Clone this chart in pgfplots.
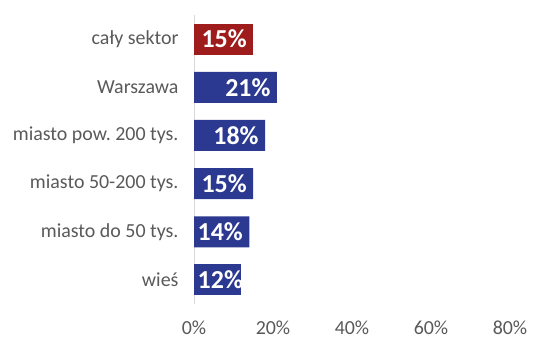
\documentclass[border=0pt]{standalone}
\usepackage{pgfplots}
\pgfplotsset{compat=1.18}
\usepackage{pgfplotstable}
\usepackage{fontspec}
\setmainfont{Carlito}
\frenchspacing
\definecolor{barred}{HTML}{9E1C1C}
\definecolor{barblue}{HTML}{2B3990}
\definecolor{txtgray}{HTML}{595959}
\definecolor{axgray}{HTML}{D9D9D9}
\pgfplotstableread{
y x
5 15
}\reddata
\pgfplotstableread{
y x
4 21
3 18
2 15
1 14
}\bluedata
\pgfplotstableread{
y x
0 12
}\bluesmall
\begin{document}
\begin{tikzpicture}
\useasboundingbox (0,0) rectangle (550bp,354bp);
\begin{axis}[
  at={(194bp,50bp)}, anchor=south west,
  scale only axis, width=316bp, height=289bp,
  xmin=0, xmax=80, ymin=-0.5, ymax=5.5,
  xtick={0,20,40,60,80},
  xticklabel={\pgfmathprintnumber{\tick}\%},
  ytick={0,1,2,3,4,5},
  yticklabels={wieś,miasto do 50 tys.,miasto 50-200 tys.,miasto pow. 200 tys.,Warszawa,cały sektor},
  /pgf/number format/assume math mode=true,
  axis x line*=bottom,
  x axis line style={draw=none},
  axis y line*=left,
  y axis line style={axgray, line width=0.8bp, -},
  major tick length=0pt,
  tick label style={font=\fontsize{20}{22}\selectfont, text=txtgray},
  xticklabel style={yshift=-13bp},
  yticklabel style={xshift=-12bp},
  xbar, bar width=31bp, bar shift=0pt,
  every axis plot/.append style={draw=none},
  nodes near coords={\pgfmathprintnumber{\pgfplotspointmeta}\%},
  nodes near coords style={font=\bfseries\fontsize{26}{28}\selectfont, text=white, anchor=east, xshift=-3bp},
  point meta=x,
]
\addplot[fill=barred, xbar, bar shift=0pt] table[x=x, y=y] {\reddata};
\addplot[fill=barblue, xbar, bar shift=0pt] table[x=x, y=y] {\bluedata};
\addplot[fill=barblue, xbar, bar shift=0pt, nodes near coords style={xshift=8bp}] table[x=x, y=y] {\bluesmall};
\end{axis}
\end{tikzpicture}
\end{document}
